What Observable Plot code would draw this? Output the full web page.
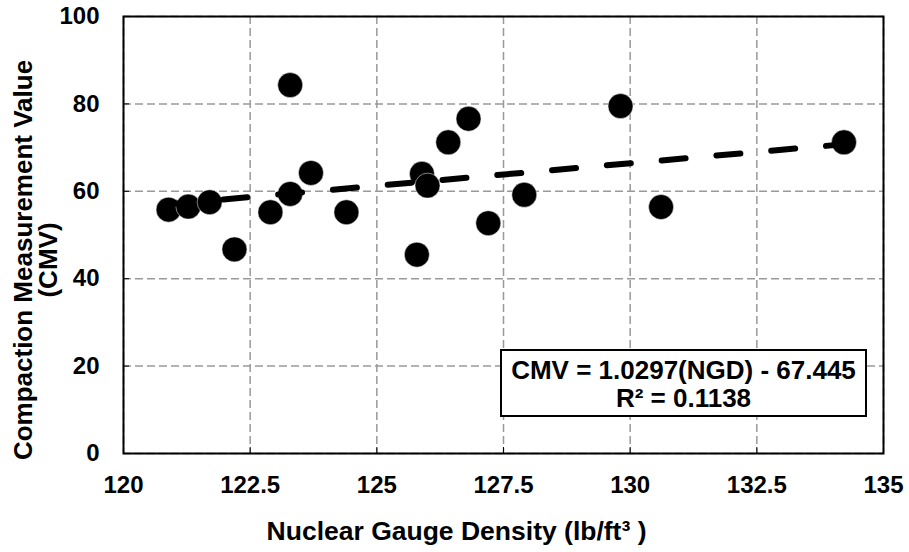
<!DOCTYPE html>
<html>
<head>
<meta charset="utf-8">
<script src="https://cdn.jsdelivr.net/npm/d3@7"></script>
<script src="https://cdn.jsdelivr.net/npm/@observablehq/plot@0.6"></script>
<style>
  html, body { margin: 0; padding: 0; background: #fff; }
  #wrap { position: relative; width: 909px; height: 552px; font-family: "Liberation Sans", Arial, sans-serif; }
  #wrap svg text { font-weight: bold; }
  #eq { position: absolute; left: 500px; top: 349px; width: 363px; height: 64px; border: 2px solid #000; background: #fff;
        font-weight: bold; font-size: 26px; line-height: 28px; text-align: center; padding: 0; box-sizing: content-box; }
  #eq div { white-space: nowrap; }
  #eq .l1 { margin-top: 5px; }
</style>
</head>
<body>
<div id="wrap"></div>
<script>
// Data
const ngd = [120.89, 121.28, 121.70, 122.19, 122.90, 123.29, 123.29, 123.70, 124.40, 125.79,
             125.89, 126.00, 126.41, 126.81, 127.20, 127.91, 129.81, 130.61, 134.22];
const cmv = [55.8, 56.5, 57.5, 46.7, 55.2, 84.3, 59.4, 64.2, 55.2, 45.5,
             64.0, 61.3, 71.2, 76.6, 52.7, 59.2, 79.5, 56.4, 71.2];
const xTicks = [120, 122.5, 125, 127.5, 130, 132.5, 135];
const yTicks = [0, 20, 40, 60, 80, 100];
const slope = 1.0297;
const intercept = -67.445;
const r2 = 0.1138;
const xTitle = "Nuclear Gauge Density (lb/ft³ )";
const yTitle = "Compaction Measurement Value\n(CMV)";

const points = ngd.map((x, i) => ({x, y: cmv[i]}));
const [xmin, xmax] = d3.extent(ngd);
const trend = [xmin, xmax].map(x => ({x, y: slope * x + intercept}));

const chart = Plot.plot({
  width: 909,
  height: 552,
  marginLeft: 123,
  marginRight: 26,
  marginTop: 16,
  marginBottom: 99,
  style: {fontFamily: "Liberation Sans, Arial, sans-serif", fontWeight: "bold", fontSize: "24px", color: "#000", background: "#fff", overflow: "visible"},
  x: {domain: [120, 135]},
  y: {domain: [0, 100]},
  marks: [
    Plot.gridX(xTicks, {stroke: "#999", strokeOpacity: 1, strokeWidth: 1.5, strokeDasharray: "8,4"}),
    Plot.gridY(yTicks, {stroke: "#999", strokeOpacity: 1, strokeWidth: 1.5, strokeDasharray: "8,4"}),
    Plot.axisX(xTicks, {tickSize: -6, tickPadding: 28, tickFormat: d => String(d), label: null, fontSize: 24, fontWeight: "bold"}),
    Plot.axisY(yTicks, {tickSize: -6, tickPadding: 30, tickFormat: d => String(d), label: null, fontSize: 24, fontWeight: "bold"}),
    Plot.frame({stroke: "#000", strokeWidth: 2}),
    Plot.dot(points, {x: "x", y: "y", r: 12.5, fill: "#000", stroke: "#fff", strokeWidth: 0.5}),
    Plot.line(trend, {x: "x", y: "y", stroke: "#000", strokeWidth: 6, strokeLinecap: "round", strokeDasharray: "24,31"}),
    Plot.text([xTitle], {frameAnchor: "bottom", lineAnchor: "middle", textAnchor: "middle", dx: -47, dy: 78, fontSize: 26.5, fontWeight: "bold", fill: "#000"}),
    Plot.text([yTitle], {frameAnchor: "left", lineAnchor: "middle", textAnchor: "middle", rotate: -90, dx: -87, dy: 25, fontSize: 26, fontWeight: "bold", fill: "#000", lineHeight: 0.96})
  ]
});
const wrap = document.getElementById("wrap");
wrap.appendChild(chart);
const eq = document.createElement("div");
eq.id = "eq";
const l1 = document.createElement("div");
l1.className = "l1";
l1.textContent = `CMV = ${slope}(NGD) - ${Math.abs(intercept)}`;
const l2 = document.createElement("div");
l2.textContent = `R² = ${r2}`;
eq.appendChild(l1);
eq.appendChild(l2);
wrap.appendChild(eq);
</script>
</body>
</html>
